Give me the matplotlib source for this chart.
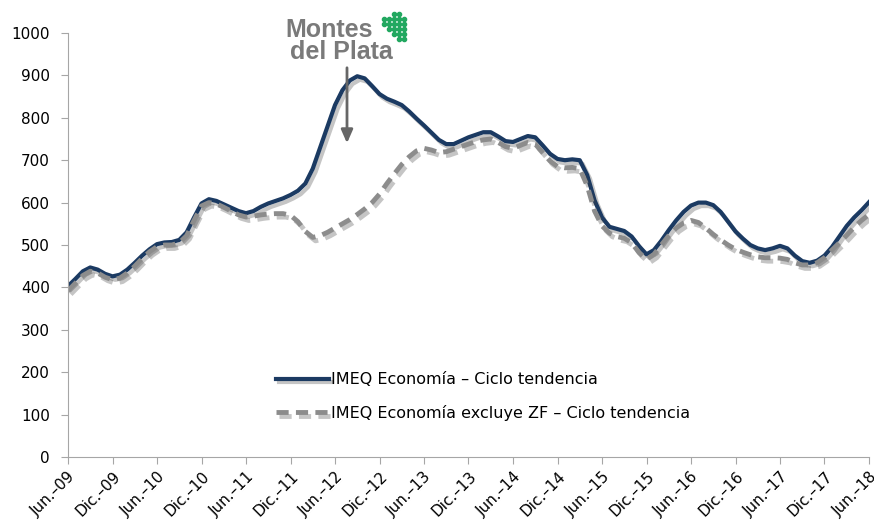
import matplotlib.pyplot as plt
import matplotlib.patheffects as pe
import numpy as np

# meses desde jun-09 (0) hasta jun-18 (108)
meses = list(range(0, 109))
imeq = [403, 420, 438, 447, 442, 432, 426, 430, 442, 458,
        475, 490, 502, 506, 507, 512, 530, 565, 598, 608,
        604, 596, 588, 580, 575, 580, 590, 598, 604, 610,
        618, 628, 645, 680, 730, 780, 830, 865, 888, 898,
        893, 875, 856, 845, 838, 830, 815, 798, 782, 765,
        748, 738, 738, 746, 754, 760, 766, 766, 756, 745,
        743, 750, 757, 754, 735, 715, 703, 700, 702, 700,
        665, 605, 565, 543, 538, 533, 520, 497, 478, 488,
        510, 535, 558, 578, 593, 600, 600, 594, 578, 555,
        532, 515, 500, 492, 488, 492, 498, 492, 475, 462,
        458, 463, 475, 495, 520, 545, 565, 582, 601]

imeq_zf = [392, 410, 428, 438, 434, 424, 418, 422, 434, 450,
           468, 484, 496, 500, 500, 505, 522, 558, 592, 600,
           597, 589, 580, 571, 566, 568, 571, 573, 574, 574,
           570, 555, 532, 518, 522, 530, 540, 550, 560, 572,
           585, 600, 620, 645, 668, 690, 708, 722, 728, 724,
           718, 720, 726, 732, 738, 744, 748, 750, 742, 732,
           728, 735, 742, 738, 718, 698, 685, 682, 683, 680,
           640, 580, 545, 528, 520, 516, 505, 482, 466, 478,
           500, 522, 540, 552, 558, 553, 540, 525, 512, 500,
           490, 483, 477, 472, 470, 470, 469, 466, 458, 453,
           453, 458, 470, 488, 505, 523, 542, 558, 572]

etiquetas = []
for a in range(9, 19):
    etiquetas.append("Jun.\u2013%02d" % a)
    if a < 18:
        etiquetas.append("Dic.\u2013%02d" % a)

fig = plt.figure(figsize=(8.74, 5.26), dpi=100)
ax = fig.add_axes([68/874, 1-457/526, 801/874, 424/526])

sombra = [pe.SimpleLineShadow(offset=(2, -2.5), alpha=0.3, shadow_color='#404040'), pe.Normal()]
ax.plot(meses, imeq, color='#1b3a62', lw=3, solid_joinstyle='round',
        label='IMEQ Econom\u00eda \u2013 Ciclo tendencia', path_effects=sombra)
ax.plot(meses, imeq_zf, color='#8c8c8c', lw=3.5, dashes=(2.5, 1.5),
        label='IMEQ Econom\u00eda excluye ZF \u2013 Ciclo tendencia', path_effects=sombra)

ax.set_xlim(0, 108)
ax.set_ylim(0, 1000)
ax.set_yticks(range(0, 1001, 100))
ax.set_xticks(range(0, 109, 6))
ax.set_xticklabels(etiquetas, rotation=45, ha='right', rotation_mode='anchor')
for s in ['top', 'right']:
    ax.spines[s].set_visible(False)
for s in ['left', 'bottom']:
    ax.spines[s].set_color('#a6a6a6')
ax.tick_params(axis='both', colors='#a6a6a6', labelcolor='black', labelsize=11, length=5)
ax.tick_params(axis='y', pad=8)

leg = ax.legend(loc='upper left', bbox_to_anchor=(262/874, 1-358/526), bbox_transform=fig.transFigure,
                frameon=False, fontsize=11.5, handlelength=3.3, handletextpad=0.15, labelspacing=1.1)

# logo Montes del Plata
fig.text(285/874, 1-37/526, 'Montes', fontsize=18, color='#7a7a7a', fontweight='bold', family='Liberation Sans')
fig.text(290/874, 1-59/526, 'del Plata', fontsize=18, color='#7a7a7a', fontweight='bold', family='Liberation Sans')
dx = [0, 1, 2, 3, 4, 0, 1, 2, 3, 4, 1, 2, 3, 4, 2, 3, 4, 3, 4, 2, 3]
dy = [1, 1, 1, 1, 1, 2, 2, 2, 2, 2, 3, 3, 3, 3, 4, 4, 4, 5, 5, 0, 0]
fig.add_artist(plt.Line2D((384 + np.array(dx)*5)/874, 1-(14 + np.array(dy)*5)/526, ls='none', marker='o',
                          ms=3, color='#22a860', transform=fig.transFigure))

ax.annotate('', xy=(347/874, 1-146/526), xytext=(347/874, 1-65/526), xycoords='figure fraction',
            arrowprops=dict(arrowstyle='-|>,head_width=0.35,head_length=0.8', color='#666666', lw=2))

fig.savefig('out.png', dpi=100)
